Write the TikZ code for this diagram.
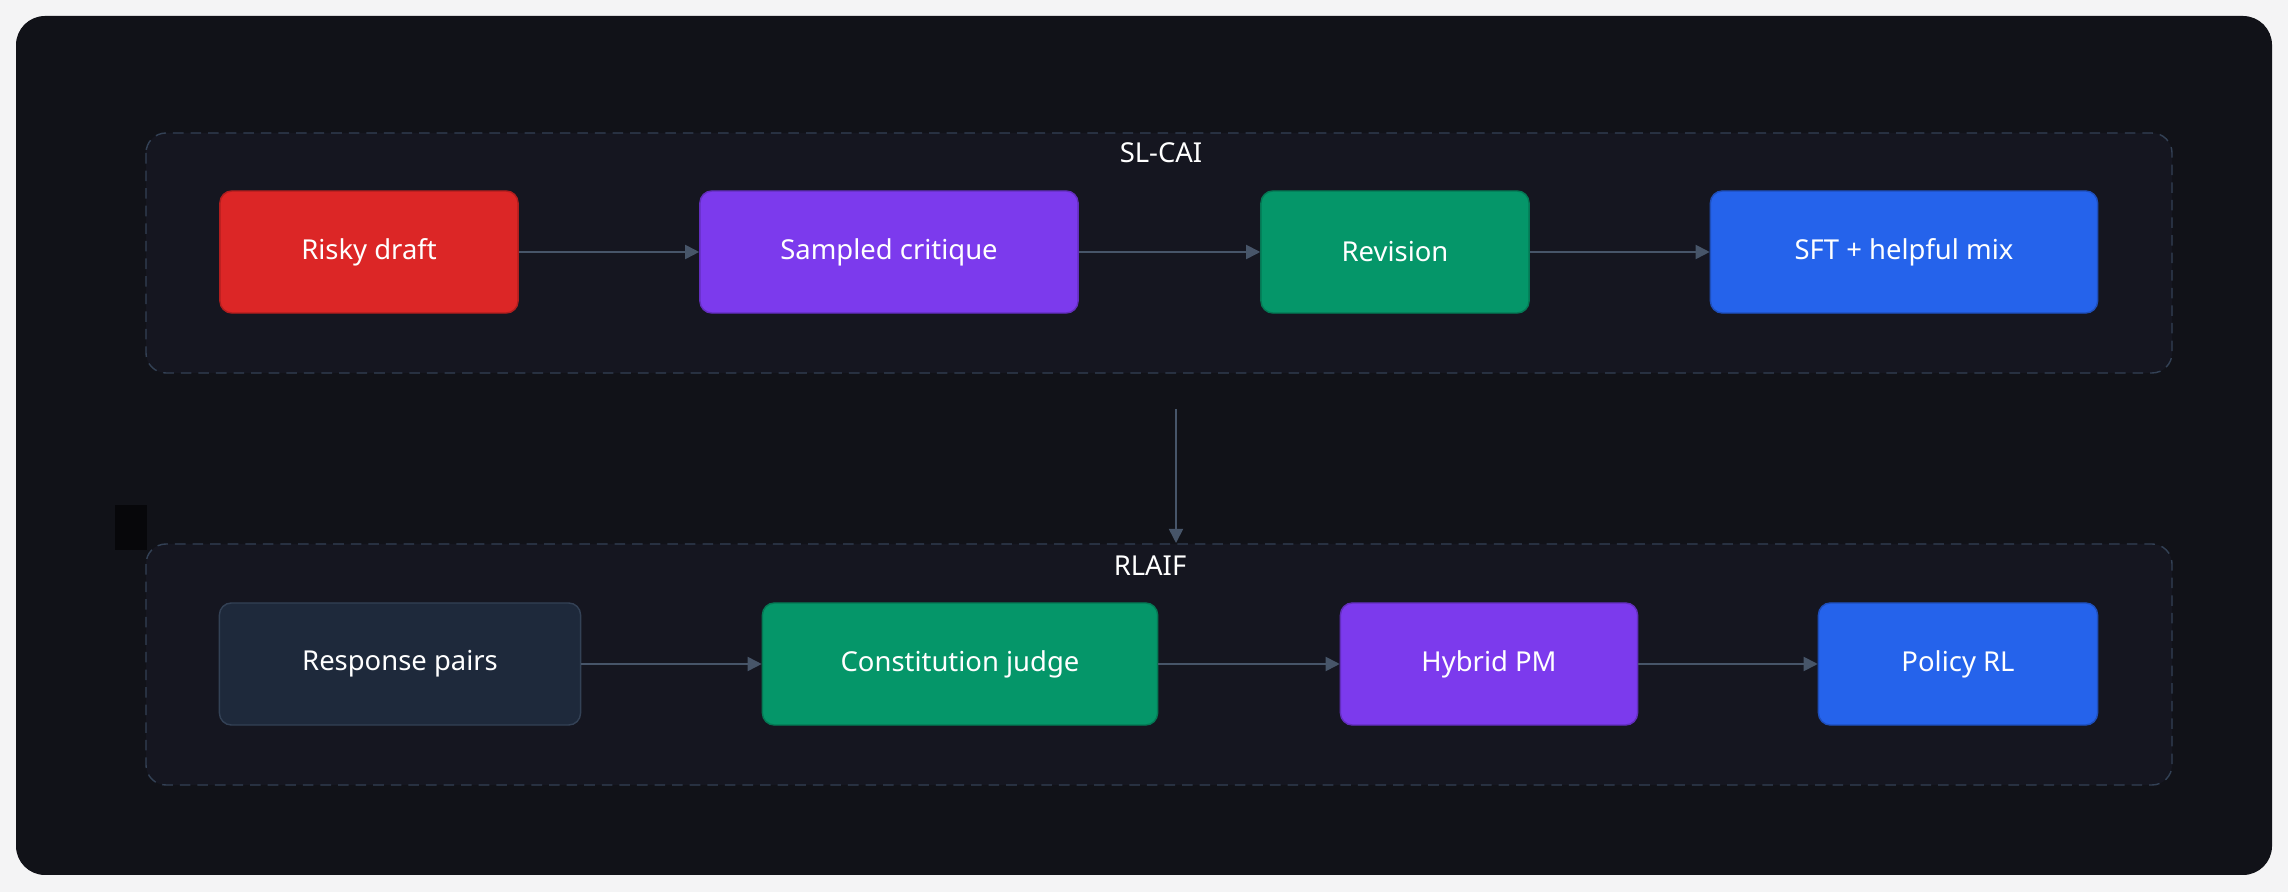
\documentclass[tikz,border=0pt]{standalone}
\usepackage{fontspec}
\setmainfont{Noto Sans}
\usetikzlibrary{positioning,arrows.meta}
\definecolor{pagebg}{HTML}{F4F4F5}
\definecolor{panelbg}{HTML}{111218}
\definecolor{groupbg}{HTML}{151620}
\definecolor{groupline}{HTML}{334155}
\definecolor{arrowgray}{HTML}{475569}
\definecolor{riskred}{HTML}{DC2626}
\definecolor{critpurple}{HTML}{7C3AED}
\definecolor{revgreen}{HTML}{059669}
\definecolor{sftblue}{HTML}{2563EB}
\definecolor{pairslate}{HTML}{1E293B}
\begin{document}
\begin{tikzpicture}[x=0.01cm,y=-0.01cm,inner sep=0pt]
\tikzstyle{main}=[rectangle, rounded corners=0.12cm, minimum height=1.22cm, text=white, font=\fontsize{7.8}{9}\selectfont]
\tikzstyle{group}=[rounded corners=0.2cm, fill=groupbg, draw=groupline, dash pattern=on 3pt off 2pt]
\tikzstyle{title}=[text=white, font=\fontsize{7.8}{9}\selectfont\bfseries]
\tikzstyle{connect}=[-{Triangle[length=4pt,width=4pt]}, draw=arrowgray, line width=0.5pt]
\useasboundingbox[fill=pagebg] (0,0) rectangle (2288,892);
\fill[panelbg, rounded corners=0.29cm] (16,16) rectangle (2272,875);
\fill[black!60!panelbg] (115,505) rectangle (147,550);
% SL-CAI stage
\draw[group] (146,133) rectangle (2172,373);
\node[title] (slcai) at (1161,153) {SL-CAI};
\node[main, fill=riskred, draw=riskred!80!black, minimum width=2.98cm] (draft) at (369,252) {Risky draft};
\node[main, fill=critpurple, draw=critpurple!80!black, minimum width=3.78cm] (critique) at (889,252) {Sampled critique};
\node[main, fill=revgreen, draw=revgreen!80!black, minimum width=2.68cm] (revision) at (1395,252) {Revision};
\node[main, fill=sftblue, draw=sftblue!80!black, minimum width=3.87cm] (sft) at (1904,252) {SFT + helpful mix};
% RLAIF stage
\draw[group] (146,544) rectangle (2172,785);
\node[title] (rlaif) at (1150,566) {RLAIF};
\node[main, fill=pairslate, draw=groupline, minimum width=3.61cm] (pairs) at (400,664) {Response pairs};
\node[main, fill=revgreen, draw=revgreen!80!black, minimum width=3.95cm] (judge) at (960,664) {Constitution judge};
\node[main, fill=critpurple, draw=critpurple!80!black, minimum width=2.97cm] (hybrid) at (1489,664) {Hybrid PM};
\node[main, fill=sftblue, draw=sftblue!80!black, minimum width=2.79cm] (policy) at (1958,664) {Policy RL};
\coordinate (stagetop) at (1176,409);
\coordinate (stagebot) at (1176,543);
\path (draft) edge[connect] (critique);
\path (critique) edge[connect] (revision);
\path (revision) edge[connect] (sft);
\path (pairs) edge[connect] (judge);
\path (judge) edge[connect] (hybrid);
\path (hybrid) edge[connect] (policy);
\path (stagetop) edge[connect] (stagebot);
\end{tikzpicture}
\end{document}
